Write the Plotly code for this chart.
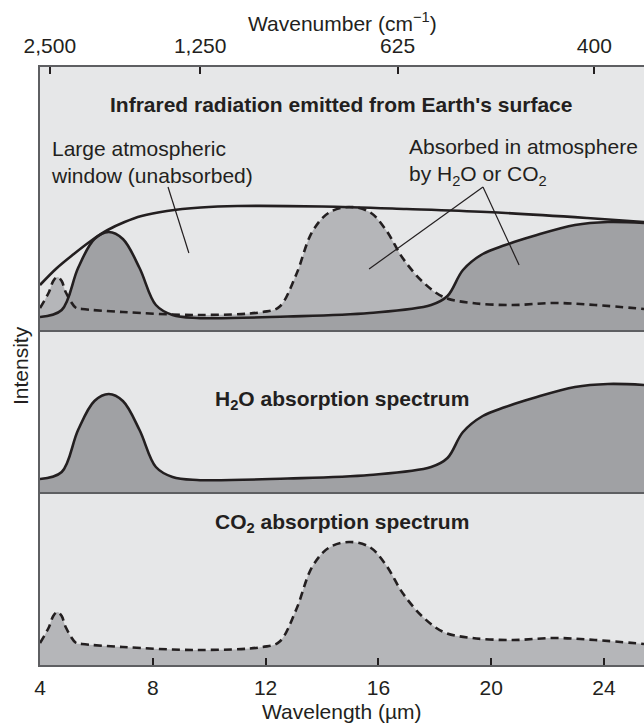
import plotly.graph_objects as go
from plotly.subplots import make_subplots

# Wavelength grid (micrometres) and intensities (arbitrary units) of each curve
wl_env = [4.0, 4.6, 5.2, 5.8, 6.4, 7.0, 7.6, 8.5, 9.7, 11.0, 14.0, 17.0, 19.85, 23.4, 25.42]
emission = [0.45, 0.62, 0.76, 0.89, 1.00, 1.08, 1.14, 1.19, 1.225, 1.24, 1.235, 1.21, 1.18, 1.12, 1.08]

wl_h2o = [4.0, 4.77, 5.35, 5.93, 6.44, 6.94, 7.53, 8.11, 8.70, 9.57, 12.78, 15.69,
          17.87, 18.45, 19.0, 19.7, 20.5, 21.5, 22.97, 24.14, 25.42]
h2o = [0.13, 0.20, 0.62, 0.91, 0.98, 0.91, 0.62, 0.25, 0.15, 0.12, 0.135, 0.17,
       0.25, 0.34, 0.60, 0.76, 0.85, 0.94, 1.05, 1.08, 1.07]

wl_co2 = [4.0, 4.32, 4.47, 4.62, 4.77, 4.91, 5.28, 5.49, 6.94, 9.57, 11.9, 12.48, 13.08,
          13.65, 14.23, 14.96, 15.69, 16.27, 16.86, 17.58, 18.31, 19.32, 20.77, 22.23,
          23.68, 25.42]
co2 = [0.22, 0.38, 0.49, 0.53, 0.49, 0.38, 0.22, 0.21, 0.18, 0.15, 0.18, 0.23, 0.55,
       0.98, 1.17, 1.23, 1.18, 1.00, 0.72, 0.48, 0.33, 0.27, 0.25, 0.27, 0.25, 0.21]

# Axis ticks
wl_ticks = [4, 8, 12, 16, 20, 24]
wn_tick_pos = [4.35, 9.68, 16.68, 23.66]
wn_tick_text = ["2,500", "1,250", "625", "400"]

X_RANGE = [4, 25.42]
INK = "#231f20"
FRAME = "#5e5f62"
BG = "#e6e7e8"
H2O_FILL = "#a0a1a4"
CO2_FILL = "#b5b6b9"
FONT = "Liberation Sans, Arial, sans-serif"

fig = make_subplots(rows=3, cols=1, shared_xaxes=True, vertical_spacing=0,
                    row_heights=[263, 162, 173])


def add_fill(x, y, color, row):
    fig.add_trace(go.Scatter(x=x, y=y, mode="lines", line=dict(width=0, shape="spline"),
                             fill="tozeroy", fillcolor=color, hoverinfo="skip",
                             showlegend=False), row=row, col=1)


def add_line(x, y, dash, row):
    fig.add_trace(go.Scatter(x=x, y=y, mode="lines",
                             line=dict(width=2.6, color=INK, shape="spline", dash=dash),
                             hoverinfo="skip", showlegend=False), row=row, col=1)


# Top panel: emission with both absorbers
add_fill(wl_co2, co2, CO2_FILL, 1)
add_fill(wl_h2o, h2o, H2O_FILL, 1)
add_line(wl_co2, co2, "8px,5px", 1)
add_line(wl_h2o, h2o, "solid", 1)
add_line(wl_env, emission, "solid", 1)

# Middle panel: water vapour
add_fill(wl_h2o, h2o, H2O_FILL, 2)
add_line(wl_h2o, h2o, "solid", 2)

# Bottom panel: carbon dioxide
add_fill(wl_co2, co2, CO2_FILL, 3)
add_line(wl_co2, co2, "8px,5px", 3)

# Carrier trace for the wavenumber axis along the top
fig.add_trace(go.Scatter(x=wl_env, y=emission, xaxis="x4", yaxis="y", mode="lines",
                         line=dict(width=0), opacity=0, hoverinfo="skip",
                         showlegend=False))

tick_font = dict(family=FONT, size=21, color=INK)
for r in (1, 2, 3):
    fig.update_xaxes(range=X_RANGE, showgrid=False, zeroline=False, showline=True,
                     linecolor=FRAME, linewidth=2, row=r, col=1)
    fig.update_yaxes(showgrid=False, zeroline=False, showticklabels=False, ticks="",
                     showline=True, linecolor=FRAME, linewidth=2, row=r, col=1)
fig.update_xaxes(showticklabels=False, ticks="", row=1, col=1)
fig.update_xaxes(showticklabels=False, ticks="", row=2, col=1)
fig.update_xaxes(tickvals=wl_ticks, ticktext=[str(t) for t in wl_ticks], ticks="inside",
                 ticklen=7, tickwidth=1.5, tickcolor=INK, tickfont=tick_font,
                 ticklabelstandoff=3, row=3, col=1)
fig.update_yaxes(range=[0, 2.63], row=1, col=1)
fig.update_yaxes(range=[0, 1.62], row=2, col=1)
fig.update_yaxes(range=[0, 1.73], row=3, col=1)

fig.update_layout(
    xaxis4=dict(overlaying="x", anchor="y", side="top", range=X_RANGE,
                tickvals=wn_tick_pos, ticktext=wn_tick_text, ticks="inside",
                ticklen=7, tickwidth=1.5, tickcolor=INK, tickfont=tick_font,
                showline=True, linecolor=FRAME, linewidth=2, showgrid=False,
                zeroline=False, ticklabelstandoff=4),
)

# Leader lines from the labels into the top panel
leaders = [((8.54, 1.43), (9.28, 0.77)),
           ((19.71, 1.43), (15.67, 0.61)),
           ((19.71, 1.43), (20.99, 0.65))]
for (x0, y0), (x1, y1) in leaders:
    fig.add_shape(type="line", x0=x0, y0=y0, x1=x1, y1=y1, xref="x", yref="y",
                  line=dict(color=INK, width=1.2))

text_font = dict(family=FONT, size=21, color=INK)
bold_font = dict(family=FONT, size=21, color=INK, weight="bold")
notes = [
    dict(x=14.67, y=2.26, xref="x", yref="y", text="<b>Infrared radiation emitted from Earth's surface</b>",
         font=bold_font, xanchor="center"),
    dict(x=4.32, y=1.685, xref="x", yref="y", text="Large atmospheric<br>window (unabsorbed)",
         font=text_font, xanchor="left", align="left"),
    dict(x=17.01, y=1.685, xref="x", yref="y",
         text="Absorbed in atmosphere<br>by H<sub>2</sub>O or CO<sub>2</sub>",
         font=text_font, xanchor="left", align="left"),
    dict(x=14.71, y=0.92, xref="x2", yref="y2", text="<b>H<sub>2</sub>O absorption spectrum</b>",
         font=bold_font, xanchor="center"),
    dict(x=14.71, y=1.42, xref="x3", yref="y3", text="<b>CO<sub>2</sub> absorption spectrum</b>",
         font=bold_font, xanchor="center"),
    dict(x=0, y=0.5, xref="paper", yref="paper", text="Intensity", textangle=-90,
         font=text_font, xanchor="center", xshift=-20),
    dict(x=0.5, y=0, xref="paper", yref="paper", text="Wavelength (µm)",
         font=text_font, yanchor="middle", yshift=-46),
    dict(x=0.5, y=1, xref="paper", yref="paper", text="Wavenumber (cm<sup>−1</sup>)",
         font=text_font, yanchor="middle", yshift=45),
]
for n in notes:
    fig.add_annotation(showarrow=False, yanchor=n.pop("yanchor", "middle"), **n)

fig.update_layout(
    width=644, height=727,
    margin=dict(l=40, r=0, t=67, b=62),
    paper_bgcolor="white",
    plot_bgcolor=BG,
    font=dict(family=FONT, color=INK),
)

fig.write_html("out.html")
